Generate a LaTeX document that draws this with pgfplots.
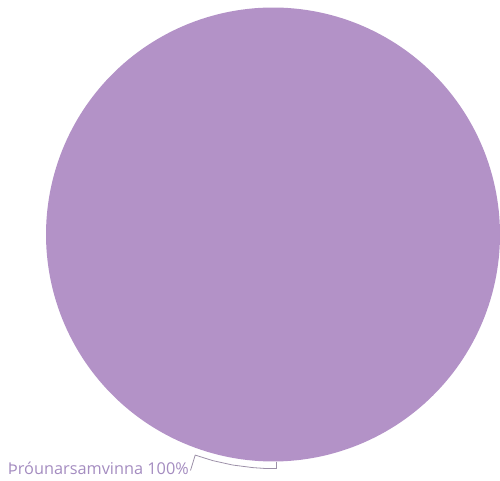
\documentclass[border=0pt]{standalone}
\usepackage{pgfplots}
\pgfplotsset{compat=1.18}
\usepackage{fontspec}
\setmainfont{Open Sans}
\definecolor{piecol}{HTML}{B392C7}
\definecolor{labcol}{HTML}{A48CC0}
\definecolor{linecol}{HTML}{9C90A8}
\begin{document}
\begin{tikzpicture}
\useasboundingbox (0,0) rectangle (500pt,481pt);
\begin{axis}[
  at={(0,0)}, anchor=south west,
  width=500pt, height=481pt, scale only axis,
  xmin=0, xmax=500, ymin=0, ymax=481,
  hide axis, clip=true,
]
% one slice: Þróunarsamvinna = 100 % of the whole
\def\pct{100}
\addplot[fill=piecol, draw=none, domain=0:{360*\pct/100}, samples=240]
  ({273+227*cos(x)}, {246.5+227*sin(x)}) -- cycle;
% connector
\addplot[linecol, line width=0.8pt] coordinates {
  (276.6,19.0) (276.4,12.5) (264,12.6) (252.7,13.4) (232.5,16.0) (212.7,20.4) (195.2,25.9) (190.5,10.5)
};
\node[anchor=base east, text=labcol, font=\fontsize{16.3}{18}\selectfont, inner sep=0pt]
  at (axis cs:189,6) {Þróunarsamvinna 100\%};
\end{axis}
\end{tikzpicture}
\end{document}
